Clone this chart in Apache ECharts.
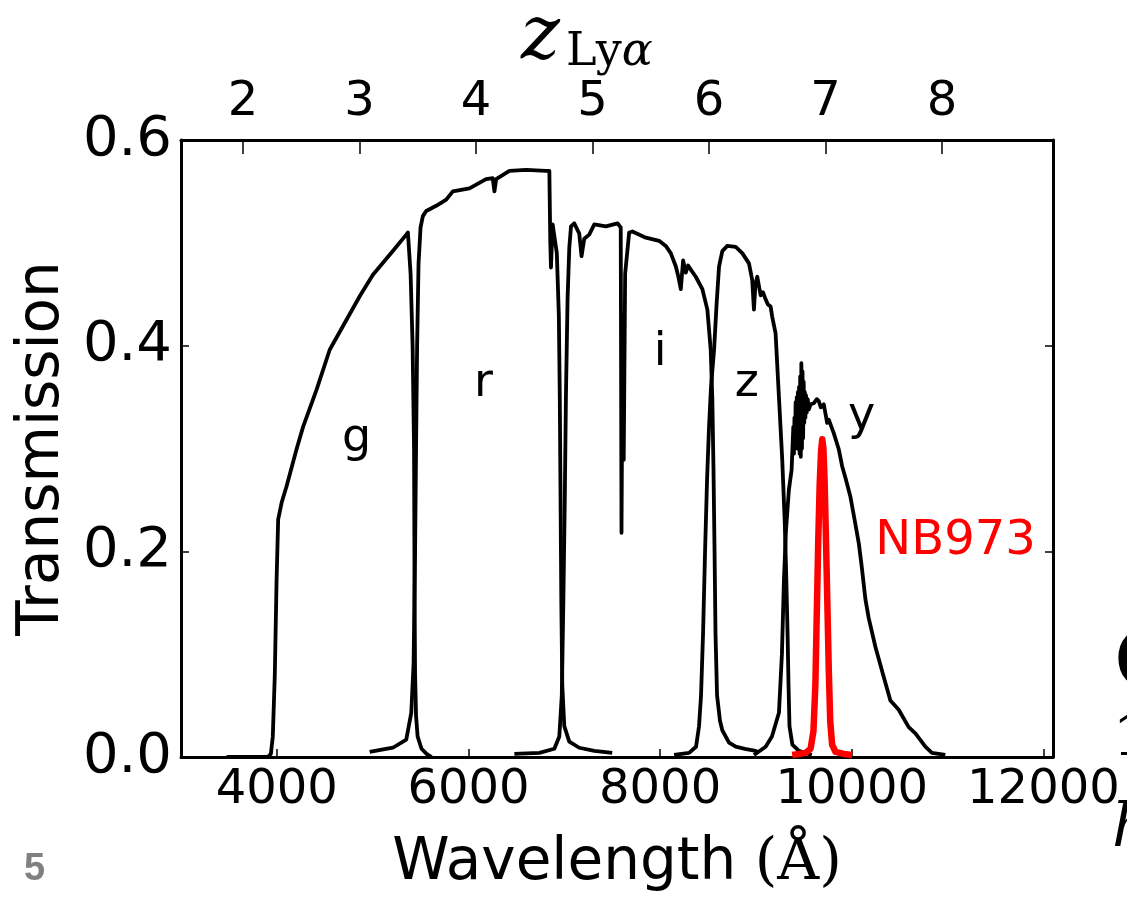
<!DOCTYPE html>
<html>
<head>
<meta charset="utf-8">
<script src="https://cdn.jsdelivr.net/npm/echarts@6/dist/echarts.min.js"></script>
<style>
html,body{margin:0;padding:0;background:#fff;}
#chart{width:1127px;height:901px;}
</style>
</head>
<body>
<div id="chart"></div>
<script>
// ---- data: [wavelength (Angstrom), transmission] ----
const gBand = [[3476,0],[3906,0],[3938,0.003],[3958,0.02],[3979,0.08],[3997,0.17],[4014,0.231],[4052,0.248],[4101,0.263],[4205,0.299],[4274,0.321],[4414,0.357],[4552,0.396],[4726,0.425],[4865,0.448],[5003,0.469],[5211,0.492],[5351,0.508],[5368,0.510],[5396,0.47],[5417,0.40],[5432,0.30],[5438,0.15],[5443,0.08],[5453,0.04],[5469,0.02],[5510,0.008],[5563,0.003],[5615,0]];
const rBand = [[4969,0.005],[5211,0.009],[5351,0.017],[5403,0.043],[5427,0.09],[5443,0.2],[5453,0.3],[5464,0.4],[5479,0.48],[5500,0.515],[5524,0.526],[5559,0.531],[5663,0.536],[5768,0.542],[5837,0.550],[6010,0.553],[6184,0.562],[6253,0.563],[6271,0.550],[6289,0.562],[6427,0.570],[6601,0.571],[6809,0.570],[6844,0.570],[6854,0.50],[6861,0.476],[6878,0.518],[6896,0.518],[6922,0.49],[6943,0.43],[6953,0.35],[6961,0.25],[6969,0.15],[6979,0.07],[7000,0.03],[7052,0.015],[7156,0.009],[7313,0.006],[7500,0.004]];
const iBand = [[6479,0.003],[6740,0.004],[6896,0.008],[6948,0.02],[6974,0.06],[6990,0.15],[7005,0.25],[7017,0.35],[7034,0.445],[7052,0.495],[7070,0.516],[7104,0.519],[7156,0.509],[7180,0.487],[7208,0.504],[7260,0.508],[7313,0.518],[7434,0.516],[7555,0.519],[7589,0.515],[7597,0.218],[7609,0.43],[7620,0.289],[7635,0.47],[7677,0.51],[7711,0.511],[7851,0.505],[7990,0.502],[8059,0.497],[8111,0.49],[8164,0.477],[8188,0.468],[8216,0.455],[8240,0.483],[8268,0.471],[8292,0.478],[8320,0.474],[8372,0.467],[8441,0.455],[8493,0.435],[8528,0.396],[8545,0.347],[8557,0.28],[8568,0.2],[8578,0.12],[8594,0.06],[8625,0.035],[8649,0.026],[8719,0.014],[8789,0.01],[8885,0.008],[8997,0.006],[9031,0.004]];
const zBand = [[8146,0.002],[8302,0.004],[8375,0.01],[8406,0.03],[8427,0.06],[8448,0.12],[8469,0.2],[8490,0.27],[8510,0.32],[8531,0.36],[8563,0.396],[8589,0.44],[8615,0.477],[8649,0.492],[8701,0.497],[8789,0.496],[8857,0.49],[8927,0.48],[8961,0.464],[8979,0.435],[8995,0.46],[9014,0.467],[9049,0.449],[9073,0.452],[9101,0.445],[9125,0.44],[9153,0.438],[9170,0.428],[9205,0.412],[9240,0.35],[9274,0.29],[9300,0.23],[9315,0.18],[9330,0.12],[9340,0.07],[9350,0.03],[9380,0.012],[9448,0.006],[9583,0.002]];
const yBand = [[8979,0.002],[9101,0.01],[9167,0.02],[9240,0.043],[9271,0.1],[9292,0.172],[9313,0.22],[9344,0.26],[9372,0.279],[9390,0.321],[9396,0.295],[9402,0.33],[9408,0.30],[9414,0.345],[9420,0.305],[9426,0.35],[9432,0.30],[9438,0.355],[9444,0.31],[9450,0.36],[9456,0.295],[9462,0.37],[9468,0.292],[9474,0.383],[9480,0.30],[9486,0.375],[9492,0.31],[9498,0.365],[9504,0.325],[9510,0.355],[9516,0.33],[9522,0.352],[9530,0.335],[9540,0.348],[9552,0.338],[9570,0.343],[9604,0.344],[9635,0.348],[9656,0.346],[9677,0.34],[9708,0.343],[9743,0.325],[9760,0.328],[9812,0.315],[9865,0.299],[9899,0.283],[9938,0.27],[9986,0.253],[10031,0.23],[10073,0.208],[10104,0.185],[10143,0.153],[10177,0.135],[10247,0.107],[10333,0.078],[10403,0.055],[10490,0.046],[10594,0.029],[10664,0.023],[10768,0.010],[10836,0.004],[10976,0.002]];
const nb973 = [[9378,0.002],[9518,0.004],[9570,0.008],[9600,0.025],[9620,0.07],[9635,0.14],[9650,0.21],[9665,0.265],[9680,0.298],[9692,0.309],[9704,0.3],[9716,0.27],[9730,0.215],[9745,0.15],[9760,0.085],[9775,0.035],[9795,0.012],[9830,0.005],[9917,0.003],[10003,0.002]];

const waveTicks = [4000, 6000, 8000, 10000, 12000];
const zTicks = [2, 3, 4, 5, 6, 7, 8];
const transTicks = [0, 0.2, 0.4, 0.6];
const labelText = ['g', 'r', 'i', 'z', 'y', 'NB973'];
const labelWave = [4833, 6156, 8000, 8906, 10104, 11083];
const labelTrans = [0.309, 0.363, 0.393, 0.363, 0.331, 0.210];
const labelColor = ['#000', '#000', '#000', '#000', '#000', '#ff0000'];

const LYA = 1215.67;
const WMIN = 3000, WMAX = 12100;

const chart = echarts.init(document.getElementById('chart'), null, {renderer: 'canvas'});
const SANS = 'DejaVu Sans';
const SERIF = 'DejaVu Serif';
const blackLine = {color: '#000', width: 3};

const bandSeries = [gBand, rBand, iBand, zBand, yBand].map(d => ({
  type: 'line', data: d, showSymbol: false, symbol: 'none',
  lineStyle: {color: '#000', width: 3.8, join: 'round'}, xAxisIndex: 0, yAxisIndex: 0,
  z: 2, silent: true
}));

const option = {
  animation: false,
  backgroundColor: '#fff',
  grid: {left: 181, right: 74, top: 140, bottom: 144, show: false, outerBoundsMode: 'none', containLabel: false},
  xAxis: [{
    type: 'value', position: 'bottom', min: WMIN, max: WMAX,
    axisLine: {show: true, onZero: false, lineStyle: blackLine},
    axisTick: {show: true, inside: true, length: 8, lineStyle: {color: '#000', width: 1.5}, customValues: waveTicks},
    axisLabel: {show: true, customValues: waveTicks, color: '#000', fontFamily: SANS, fontSize: 48, margin: 10, formatter: v => String(v)},
    splitLine: {show: false},
    name: '{a|Wavelength }{b|(Å)}', nameLocation: 'middle', nameGap: 78,
    nameTextStyle: {rich: {a: {fontFamily: SANS, fontSize: 58, color: '#000'}, b: {fontFamily: SERIF, fontSize: 58, color: '#000'}}}
  }, {
    type: 'value', position: 'top', min: WMIN / LYA - 1, max: WMAX / LYA - 1,
    axisLine: {show: true, onZero: false, lineStyle: blackLine},
    axisTick: {show: true, inside: true, length: 14, lineStyle: {color: '#000', width: 1.5}, customValues: zTicks},
    axisLabel: {show: true, customValues: zTicks, color: '#000', fontFamily: SANS, fontSize: 48, margin: 13},
    splitLine: {show: false}
  }],
  yAxis: [{
    type: 'value', position: 'left', min: 0, max: 0.6, interval: 0.2,
    axisLine: {show: true, onZero: false, lineStyle: blackLine},
    axisTick: {show: true, inside: true, length: 8, lineStyle: {color: '#000', width: 1.5}},
    axisLabel: {show: true, color: '#000', fontFamily: SANS, fontSize: 56, margin: 9, formatter: v => v.toFixed(1)},
    splitLine: {show: false},
    name: 'Transmission', nameLocation: 'middle', nameGap: 106, nameRotate: 90,
    nameTextStyle: {fontFamily: SANS, fontSize: 58, color: '#000'}
  }, {
    type: 'value', position: 'right', min: 0, max: 0.6, interval: 0.2,
    axisLine: {show: true, onZero: false, lineStyle: blackLine},
    axisTick: {show: true, inside: true, length: 8, lineStyle: {color: '#000', width: 1.5}},
    axisLabel: {show: false},
    splitLine: {show: false}
  }],
  series: bandSeries.concat([{
    type: 'line', data: nb973, showSymbol: false, symbol: 'none', smooth: false,
    lineStyle: {color: '#ff0000', width: 6.5, join: 'round'}, z: 3, silent: true
  }, {
    type: 'scatter', symbolSize: 0, silent: true, z: 4,
    itemStyle: {opacity: 1},
    data: labelText.map((t, k) => ({name: t, value: [labelWave[k], labelTrans[k]],
      label: {color: labelColor[k], fontSize: t === 'NB973' ? 48 : 46}})),
    label: {show: true, position: 'inside', formatter: '{b}', fontFamily: SANS, fontSize: 46, color: '#000', opacity: 1}
  }]),
  graphic: [
    {type: 'text', left: 521, top: 2, style: {text: 'z', fontFamily: SERIF, fontStyle: 'italic', fontSize: 74, fill: '#000'}},
    {type: 'text', left: 566, top: 30, style: {text: '{a|Ly}{b|α}', rich: {
      a: {fontFamily: SERIF, fontSize: 46, fill: '#000'},
      b: {fontFamily: SERIF, fontStyle: 'italic', fontSize: 46, fill: '#000'}}}},
    {type: 'text', left: 24, top: 851, style: {text: '5', fontFamily: 'Liberation Sans', fontWeight: 'bold', fontSize: 38, fill: '#808080'}},
    {type: 'text', left: 1114, top: 628, style: {text: 'G', fontFamily: SERIF, fontSize: 78, fill: '#000'}},
    {type: 'text', left: 1113, top: 712, style: {text: '1', fontFamily: SERIF, fontSize: 56, fill: '#000'}},
    {type: 'text', left: 1112, top: 800, style: {text: 'h', fontFamily: SERIF, fontStyle: 'italic', fontSize: 60, fill: '#000'}}
  ]
};
chart.setOption(option);
</script>
</body>
</html>
